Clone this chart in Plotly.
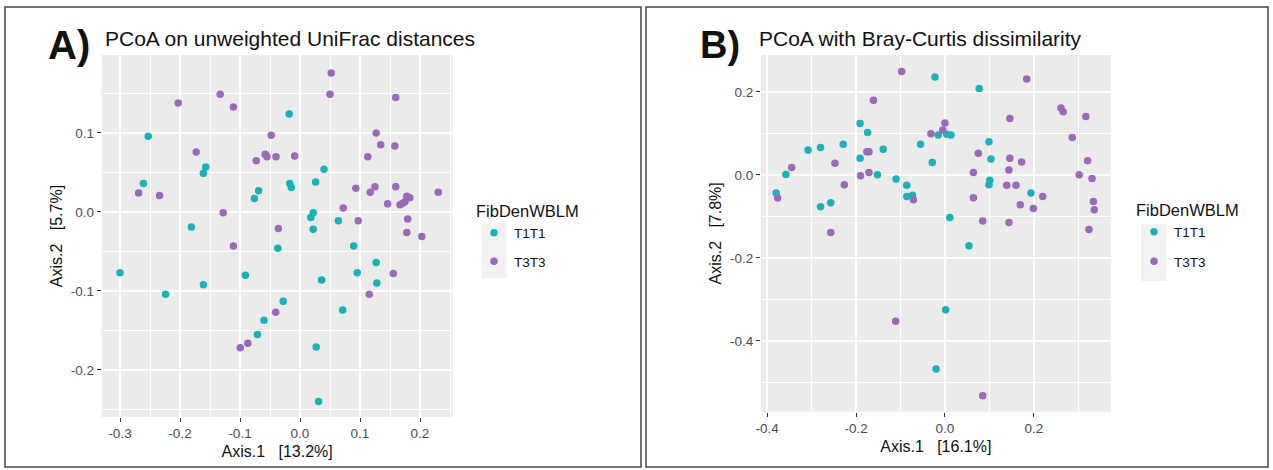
import plotly.graph_objects as go

# ---------------- data ----------------
groups = ["T1T1", "T3T3"]

a_t1_x = [-0.300, -0.253, -0.261, -0.157, -0.161, -0.069, -0.076, -0.181, -0.018, 0.040,
          -0.017, -0.0145, 0.026, 0.022, 0.018, 0.064, 0.022, -0.224, -0.161, -0.037,
          -0.091, -0.060, -0.071, 0.0895, 0.127, 0.0955, 0.128, 0.036, -0.028, 0.071,
          0.027, 0.031]
a_t1_y = [-0.077, 0.096, 0.036, 0.057, 0.049, 0.027, 0.017, -0.019, 0.124, 0.054,
          0.036, 0.031, 0.038, -0.001, -0.007, -0.011, -0.022, -0.104, -0.092, -0.046,
          -0.080, -0.137, -0.155, -0.043, -0.064, -0.077, -0.090, -0.086, -0.113, -0.124,
          -0.171, -0.240]

a_t3_x = [-0.133, -0.203, -0.111, -0.048, -0.173, -0.058, -0.055, -0.073, -0.040, -0.269,
          -0.234, -0.128, -0.036, 0.052, 0.050, 0.1595, -0.009, 0.127, 0.1345, 0.158,
          0.113, 0.093, 0.117, 0.125, 0.1595, 0.178, 0.183, 0.146, 0.1667, 0.171,
          0.175, 0.2305, 0.072, 0.097, 0.1795, 0.178, 0.203, 0.1555, 0.1155, -0.111,
          -0.0405, -0.087, -0.0995]
a_t3_y = [0.149, 0.138, 0.133, 0.097, 0.076, 0.073, 0.070, 0.065, 0.070, 0.024,
          0.021, -0.001, -0.021, 0.176, 0.149, 0.145, 0.071, 0.100, 0.085, 0.0835,
          0.070, 0.030, 0.025, 0.032, 0.032, 0.020, 0.018, 0.0105, 0.009, 0.011,
          0.013, 0.025, 0.005, -0.011, -0.009, -0.026, -0.031, -0.078, -0.104, -0.043,
          -0.127, -0.166, -0.172]

b_t1_x = [-0.0225, -0.191, -0.174, -0.280, -0.308, -0.229, -0.139, -0.191, -0.055, -0.0285,
          -0.358, -0.152, -0.110, -0.086, -0.380, -0.086, -0.073, -0.257, -0.280, -0.015,
          0.004, 0.0135, 0.011, 0.077, 0.099, 0.1035, 0.101, 0.099, 0.1935, 0.054,
          0.0015, -0.020]
b_t1_y = [0.236, 0.124, 0.102, 0.066, 0.060, 0.074, 0.062, 0.040, 0.074, 0.030,
          0.001, 0.000, -0.010, -0.025, -0.044, -0.052, -0.049, -0.067, -0.077, 0.096,
          0.098, 0.096, -0.103, 0.208, 0.080, 0.038, -0.013, -0.024, -0.044, -0.171,
          -0.325, -0.468]

b_t3_x = [-0.0975, -0.161, 0.000, -0.0315, -0.005, -0.345, -0.2475, -0.176, -0.171, -0.190,
          -0.171, -0.2265, -0.3765, -0.071, -0.257, 0.184, 0.146, 0.261, 0.266, 0.317,
          0.2865, 0.075, 0.146, 0.1725, 0.144, 0.064, 0.321, 0.302, 0.331, 0.139,
          0.160, 0.064, 0.220, 0.1695, 0.199, 0.334, 0.336, 0.085, 0.144, 0.324,
          -0.111, 0.085]
b_t3_y = [0.249, 0.180, 0.125, 0.099, 0.108, 0.018, 0.028, 0.056, 0.056, -0.002,
          0.006, -0.024, -0.056, -0.060, -0.139, 0.231, 0.136, 0.161, 0.152, 0.141,
          0.090, 0.052, 0.040, 0.031, 0.012, 0.006, 0.034, 0.000, -0.009, -0.025,
          -0.025, -0.055, -0.052, -0.072, -0.081, -0.064, -0.084, -0.1115, -0.115, -0.132,
          -0.353, -0.5325]

a_xticks = [-0.3, -0.2, -0.1, 0.0, 0.1, 0.2]
a_yticks = [-0.2, -0.1, 0.0, 0.1]
b_xticks = [-0.4, -0.2, 0.0, 0.2]
b_yticks = [-0.4, -0.2, 0.0, 0.2]

titles = ["PCoA on unweighted UniFrac distances", "PCoA with Bray-Curtis dissimilarity"]
panel_tags = ["A)", "B)"]
x_titles = ["Axis.1   [13.2%]", "Axis.1   [16.1%]"]
y_titles = ["Axis.2   [5.7%]", "Axis.2   [7.8%]"]
legend_title = "FibDenWBLM"

# ---------------- styling ----------------
W, H = 1273, 470
FONT = "Liberation Sans, Arial, sans-serif"
COL = {"T1T1": "#14B4BD", "T3T3": "#9B68BB"}
PANEL_BG = "#EBEBEB"


def fx(p):
    return p / W


def fy(p):
    return 1 - p / H


def labels(vals):
    return ["%.1f" % v for v in vals]


fig = go.Figure()

panels = [
    dict(x1=a_t1_x, y1=a_t1_y, x3=a_t3_x, y3=a_t3_y, xa="x", ya="y", leg="legend"),
    dict(x1=b_t1_x, y1=b_t1_y, x3=b_t3_x, y3=b_t3_y, xa="x2", ya="y2", leg="legend2"),
]
for i, p in enumerate(panels):
    for g, xs, ys in [("T1T1", p["x1"], p["y1"]), ("T3T3", p["x3"], p["y3"])]:
        fig.add_trace(go.Scatter(
            x=xs, y=ys, mode="markers", name=g, legendgroup=g + str(i),
            marker=dict(color=COL[g], size=7.5, line=dict(width=0)),
            xaxis=p["xa"], yaxis=p["ya"], legend=p["leg"], showlegend=True,
        ))

axis_common = dict(
    showline=False, zeroline=False, ticks="outside", ticklen=4, tickwidth=1.1,
    tickcolor="#333333", tickfont=dict(family=FONT, size=13.5, color="#4D4D4D"),
    showgrid=True, gridcolor="white", gridwidth=2, automargin=False,
    title_font=dict(family=FONT, size=16, color="#111111"),
)

fig.update_layout(
    width=W, height=H, margin=dict(l=0, r=0, t=0, b=0, autoexpand=False),
    paper_bgcolor="white", plot_bgcolor=PANEL_BG,
    font=dict(family=FONT),
    xaxis=dict(axis_common, domain=[fx(101.7), fx(452.7)], range=[-0.3305, 0.2545],
               tickvals=a_xticks, ticktext=labels(a_xticks), anchor="y",
               minor=dict(dtick=0.05, tick0=0, showgrid=True, gridcolor="white", gridwidth=1, ticks=""),
               title=dict(text=x_titles[0], standoff=5)),
    yaxis=dict(axis_common, domain=[fy(417), fy(55)], range=[-0.2595, 0.1987],
               tickvals=a_yticks, ticktext=labels(a_yticks), anchor="x",
               minor=dict(dtick=0.05, tick0=0, showgrid=True, gridcolor="white", gridwidth=1, ticks=""),
               title=dict(text=y_titles[0], standoff=4)),
    xaxis2=dict(axis_common, domain=[fx(761), fx(1110.7)], range=[-0.414, 0.373],
                tickvals=b_xticks, ticktext=labels(b_xticks), anchor="y2",
                minor=dict(dtick=0.1, tick0=0, showgrid=True, gridcolor="white", gridwidth=1, ticks=""),
                title=dict(text=x_titles[1], standoff=5)),
    yaxis2=dict(axis_common, domain=[fy(411.7), fy(55)], range=[-0.571, 0.289],
                tickvals=b_yticks, ticktext=labels(b_yticks), anchor="x2",
                minor=dict(dtick=0.1, tick0=0, showgrid=True, gridcolor="white", gridwidth=1, ticks=""),
                title=dict(text=y_titles[1], standoff=4)),
    legend=dict(x=fx(474), y=fy(196), xanchor="left", yanchor="top",
                bgcolor="rgba(0,0,0,0)", tracegroupgap=8,
                title=dict(text=legend_title, font=dict(family=FONT, size=16.5, color="#111111")),
                font=dict(family=FONT, size=13.5, color="#111111")),
    legend2=dict(x=fx(1134), y=fy(195), xanchor="left", yanchor="top",
                 bgcolor="rgba(0,0,0,0)", tracegroupgap=9,
                 title=dict(text=legend_title, font=dict(family=FONT, size=16.5, color="#111111")),
                 font=dict(family=FONT, size=13.5, color="#111111")),
)

shapes = [
    # panel frames
    dict(type="rect", xref="paper", yref="paper", x0=fx(5), x1=fx(641), y0=fy(467), y1=fy(7),
         line=dict(color="#444444", width=1.5), fillcolor="rgba(0,0,0,0)", layer="below"),
    dict(type="rect", xref="paper", yref="paper", x0=fx(646), x1=fx(1268), y0=fy(467), y1=fy(7),
         line=dict(color="#444444", width=1.5), fillcolor="rgba(0,0,0,0)", layer="below"),
    # legend key backgrounds
    dict(type="rect", xref="paper", yref="paper", x0=fx(481.7), x1=fx(506.7), y0=fy(278), y1=fy(223),
         line=dict(width=0), fillcolor="#F2F2F2", layer="below"),
    dict(type="rect", xref="paper", yref="paper", x0=fx(1141), x1=fx(1166), y0=fy(281), y1=fy(224),
         line=dict(width=0), fillcolor="#F2F2F2", layer="below"),
]
fig.update_layout(shapes=shapes)

annotations = [
    dict(text="<b>" + panel_tags[0] + "</b>", x=fx(46), y=fy(45), xanchor="left", yanchor="middle",
         font=dict(family=FONT, size=40, color="#111111")),
    dict(text=titles[0], x=fx(103), y=fy(38), xanchor="left", yanchor="middle",
         font=dict(family=FONT, size=21, color="#111111")),
    dict(text="<b>" + panel_tags[1] + "</b>", x=fx(698), y=fy(45), xanchor="left", yanchor="middle",
         font=dict(family=FONT, size=38, color="#111111")),
    dict(text=titles[1], x=fx(757), y=fy(38), xanchor="left", yanchor="middle",
         font=dict(family=FONT, size=21, color="#111111")),
]
for a in annotations:
    a.update(xref="paper", yref="paper", showarrow=False)
fig.update_layout(annotations=annotations)

fig.write_html("out.html", config={"displayModeBar": False},
               post_script="document.body.style.margin='0';document.body.style.overflow='hidden';")
